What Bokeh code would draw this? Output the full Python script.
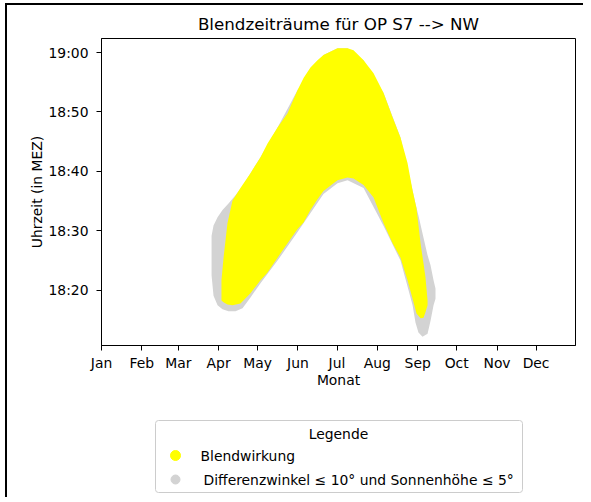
from bokeh.plotting import figure
from bokeh.layouts import column
from bokeh.models import FixedTicker, Range1d, ColumnDataSource
from bokeh.core.properties import value
from bokeh.embed import file_html
from bokeh.resources import INLINE

# x: day of year (0 = 1 Jan), y: minutes after 18:00 (MEZ)
yellow_day = [92.2, 93.8, 96.8, 100.7, 106.8, 114.5, 122.2, 127.6, 135.3, 143.0,
              150.7, 155.3, 160.6, 166.0, 170.6, 181.4, 189.1, 193.7, 201.4, 209.1,
              216.8, 223.7, 229.8, 235.2, 239.1, 242.1, 245.2, 247.5, 249.0, 250.6]
yellow_lo = [18.3, 18.0, 17.6, 17.5, 17.8, 19.5, 21.7, 23.0, 25.5, 27.9,
             30.3, 31.4, 33.5, 35.3, 36.7, 38.5, 39.0, 38.8, 37.7, 35.6,
             31.3, 27.9, 25.5, 21.7, 18.6, 16.1, 15.3, 15.4, 16.3, 17.5]
yellow_hi = [21.7, 25.5, 31.3, 35.1, 37.2, 39.7, 42.4, 44.7, 47.4, 49.8,
             53.7, 55.7, 57.5, 58.7, 59.6, 60.7, 60.7, 60.4, 58.7, 56.5,
             53.2, 49.1, 45.7, 41.4, 36.8, 33.8, 27.9, 24.5, 22.2, 18.3]

gray_day = [84.6, 86.1, 89.2, 93.0, 97.6, 103.0, 108.4, 114.5, 122.2, 135.3,
            150.7, 170.6, 181.4, 189.1, 201.4, 216.8, 229.8, 239.1, 241.3, 243.6,
            246.7, 250.6, 252.9, 255.2, 256.7]
gray_lo = [22.5, 19.1, 17.5, 16.8, 16.5, 16.5, 17.0, 18.8, 21.2, 25.0,
           29.8, 36.2, 38.0, 38.5, 37.2, 30.8, 25.0, 17.5, 14.6, 12.9,
           12.2, 12.7, 14.9, 17.5, 18.6]
gray_hi = [29.2, 30.9, 32.3, 33.5, 34.6, 36.0, 37.5, 39.7, 42.4, 47.4,
           53.7, 59.6, 60.7, 60.7, 58.7, 53.2, 45.7, 36.8, 34.6, 32.6,
           29.6, 25.9, 24.2, 21.7, 20.3]

month_ticks = [0, 31, 59, 90, 120, 151, 181, 212, 243, 273, 304, 334]
month_labels = ["Jan", "Feb", "Mar", "Apr", "May", "Jun",
                "Jul", "Aug", "Sep", "Oct", "Nov", "Dec"]
time_ticks = [20, 30, 40, 50, 60]
time_labels = ["18:20", "18:30", "18:40", "18:50", "19:00"]

legend_labels = ["Blendwirkung", "Differenzwinkel ≤ 10° und Sonnenhöhe ≤ 5°"]
legend_colors = ["#ffff00", "#d3d3d3"]
legend_title = "Legende"
title_text = "Blendzeiträume für OP S7 --> NW"

FONT = "DejaVu Sans"
YELLOW = "#ffff00"
GRAY = "#d3d3d3"

# content origin on the page is (7, 5) because of the frame border below
OX, OY = 7, 5

# ---------------- main chart ----------------
H1 = 400 - OY
p = figure(width=583 - OX, height=H1, output_backend="svg", toolbar_location=None,
           x_range=Range1d(0, 364.3), y_range=Range1d(10.72, 62.36),
           min_border_left=101 - OX, min_border_right=8, min_border_top=38 - OY,
           min_border_bottom=55)

p.title.text = title_text
p.title.align = "center"
p.title.text_font = FONT
p.title.text_font_size = "16.7px"
p.title.text_font_style = "normal"
p.title.text_color = "black"
p.title.standoff = 10

src_g = ColumnDataSource(dict(day=gray_day, lo=gray_lo, hi=gray_hi))
src_y = ColumnDataSource(dict(day=yellow_day, lo=yellow_lo, hi=yellow_hi))
p.varea(x="day", y1="lo", y2="hi", source=src_g, fill_color=GRAY)
p.varea(x="day", y1="lo", y2="hi", source=src_y, fill_color=YELLOW)

p.grid.visible = False
p.outline_line_color = "black"
p.outline_line_width = 1

for ax in (p.xaxis[0], p.yaxis[0]):
    ax.axis_line_color = "black"
    ax.major_tick_line_color = "black"
    ax.major_tick_out = 5
    ax.major_tick_in = 0
    ax.minor_tick_out = 0
    ax.minor_tick_in = 0
    ax.major_label_text_font = FONT
    ax.major_label_text_font_size = "13.9px"
    ax.major_label_text_color = "black"
    ax.axis_label_text_font = FONT
    ax.axis_label_text_font_size = "13.9px"
    ax.axis_label_text_font_style = "normal"
    ax.axis_label_text_color = "black"

p.xaxis.ticker = FixedTicker(ticks=month_ticks)
p.xaxis.major_label_overrides = {t: l for t, l in zip(month_ticks, month_labels)}
p.xaxis.axis_label = "Monat"
p.xaxis.major_label_standoff = 4
p.xaxis.axis_label_standoff = -2

p.yaxis.ticker = FixedTicker(ticks=time_ticks)
p.yaxis.major_label_overrides = {t: l for t, l in zip(time_ticks, time_labels)}
p.yaxis.axis_label = "Uhrzeit (in MEZ)"
p.yaxis.major_label_standoff = 8
p.yaxis.axis_label_standoff = 0

# ---------------- legend panel (page-pixel coordinates) ----------------
H2 = 97
q = figure(width=583 - OX, height=H2, output_backend="svg", toolbar_location=None,
           x_range=Range1d(101, 575), y_range=Range1d(400 + H2, 400),
           min_border_left=101 - OX, min_border_right=8, min_border_top=0,
           min_border_bottom=0)
q.axis.visible = False
q.grid.visible = False
q.outline_line_color = None

q.quad(left=[155], right=[522], top=[420], bottom=[492],
       fill_color="white", line_color="#cccccc", line_width=1, border_radius=3)
q.text(x=[338], y=[433], text=[legend_title], text_align="center",
       text_baseline="middle", text_font=value(FONT), text_font_size="13.9px",
       text_color="black")
q.scatter(x=[175, 175], y=[455, 479], size=[10, 9], fill_color=legend_colors,
          line_color=legend_colors)
q.text(x=[200, 203], y=[455, 479], text=legend_labels, text_align="left",
       text_baseline="middle", text_font=value(FONT), text_font_size="13.9px",
       text_color="black")

layout = column(p, q, spacing=0,
                styles={"border-left": "2px solid black",
                        "border-top": "2px solid black",
                        "margin-left": "5px", "margin-top": "3px"})
open("out.html", "w").write(file_html(layout, INLINE))
